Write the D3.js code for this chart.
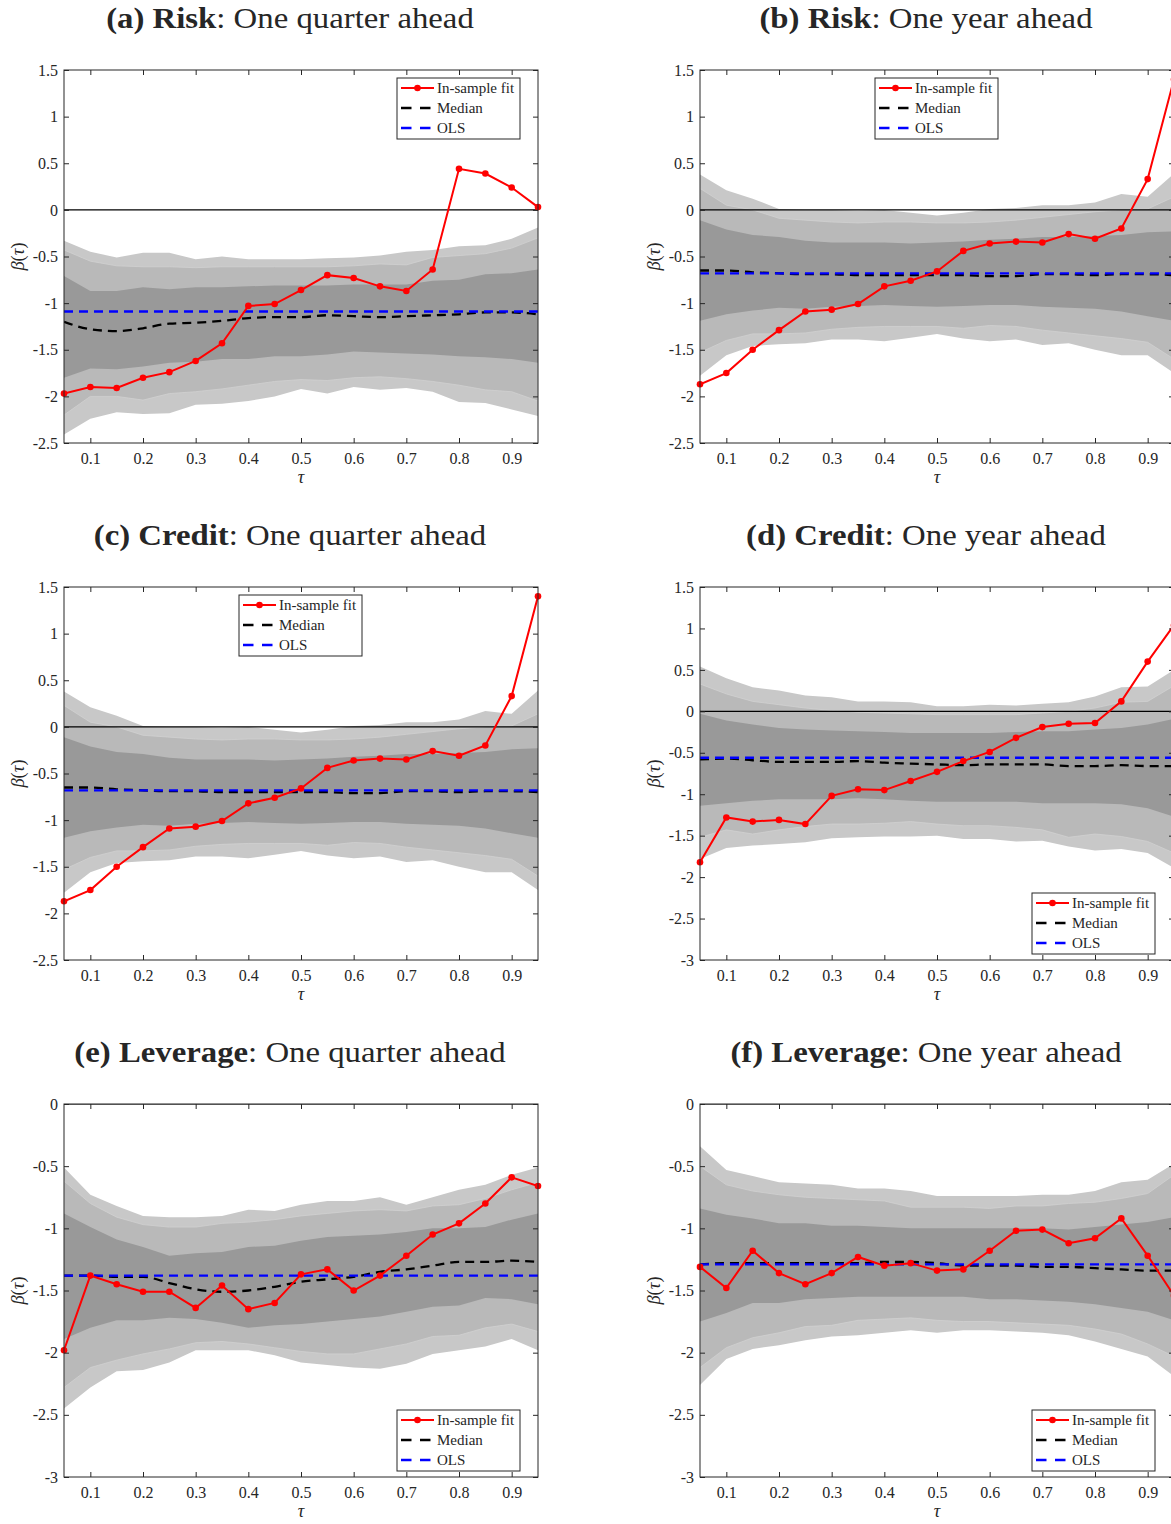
<!DOCTYPE html>
<html>
<head>
<meta charset="utf-8">
<script src="https://cdn.jsdelivr.net/npm/d3@7"></script>
<style>
  body { margin: 0; background: #fff; }
  svg text { font-family: "Liberation Serif", "Times New Roman", serif; fill: #262626; }
</style>
</head>
<body>
<svg id="fig" width="1171" height="1524"></svg>
<script>
// quantile grid shared by every panel
var tau = [0.05, 0.10, 0.15, 0.20, 0.25, 0.30, 0.35, 0.40, 0.45, 0.50,
           0.55, 0.60, 0.65, 0.70, 0.75, 0.80, 0.85, 0.90, 0.95]
var xTicks = [0.1, 0.2, 0.3, 0.4, 0.5, 0.6, 0.7, 0.8, 0.9]

// (a) Risk, one quarter ahead
var fitA = [-1.97,-1.90,-1.91,-1.80,-1.74,-1.62,-1.43,-1.03,-1.01,-0.86,-0.70,-0.73,-0.82,-0.87,-0.64,0.44,0.39,0.24,0.03]
var medA = [-1.20,-1.28,-1.30,-1.27,-1.22,-1.21,-1.19,-1.16,-1.15,-1.15,-1.13,-1.14,-1.15,-1.14,-1.13,-1.12,-1.10,-1.10,-1.12]
var olsA = -1.09
var outerHiA = [-0.33,-0.45,-0.51,-0.46,-0.46,-0.53,-0.50,-0.53,-0.53,-0.53,-0.52,-0.51,-0.49,-0.45,-0.43,-0.39,-0.38,-0.31,-0.19]
var midHiA   = [-0.43,-0.55,-0.60,-0.61,-0.61,-0.62,-0.61,-0.61,-0.61,-0.61,-0.61,-0.60,-0.58,-0.59,-0.51,-0.49,-0.47,-0.41,-0.30]
var innerHiA = [-0.71,-0.87,-0.87,-0.83,-0.85,-0.83,-0.83,-0.82,-0.81,-0.81,-0.81,-0.80,-0.80,-0.80,-0.76,-0.75,-0.69,-0.68,-0.64]
var innerLoA = [-1.80,-1.70,-1.71,-1.68,-1.64,-1.63,-1.60,-1.60,-1.57,-1.57,-1.55,-1.52,-1.53,-1.54,-1.55,-1.57,-1.58,-1.60,-1.64]
var midLoA   = [-2.20,-2.00,-2.00,-2.04,-1.97,-1.95,-1.92,-1.88,-1.84,-1.82,-1.83,-1.80,-1.79,-1.81,-1.84,-1.88,-1.93,-1.95,-2.05]
var outerLoA = [-2.41,-2.24,-2.17,-2.19,-2.18,-2.09,-2.08,-2.05,-2.00,-1.92,-1.97,-1.90,-1.93,-1.91,-1.95,-2.06,-2.07,-2.14,-2.21]

// (b) Risk one year ahead and (c) Credit one quarter ahead show the same estimates
var fitC = [-1.87,-1.75,-1.50,-1.29,-1.09,-1.07,-1.01,-0.82,-0.76,-0.66,-0.44,-0.36,-0.34,-0.35,-0.26,-0.31,-0.20,0.33,1.40]
var medC = [-0.65,-0.65,-0.67,-0.68,-0.69,-0.69,-0.70,-0.70,-0.70,-0.70,-0.70,-0.71,-0.71,-0.69,-0.69,-0.70,-0.69,-0.69,-0.70]
var olsC = -0.68
var outerHiC = [0.38,0.21,0.12,0.01,0.00,0.00,-0.01,0.00,-0.03,-0.06,-0.03,0.01,0.02,0.05,0.05,0.08,0.17,0.14,0.39]
var midHiC   = [0.23,0.05,0.00,-0.09,-0.11,-0.13,-0.14,-0.13,-0.13,-0.14,-0.14,-0.13,-0.11,-0.08,-0.05,-0.02,0.00,0.01,0.14]
var innerHiC = [-0.11,-0.21,-0.27,-0.29,-0.33,-0.35,-0.35,-0.35,-0.36,-0.35,-0.34,-0.32,-0.31,-0.29,-0.29,-0.28,-0.27,-0.24,-0.23]
var innerLoC = [-1.19,-1.12,-1.08,-1.05,-1.06,-1.04,-1.03,-1.02,-1.03,-1.04,-1.03,-1.02,-1.02,-1.04,-1.05,-1.06,-1.09,-1.14,-1.19]
var midLoC   = [-1.53,-1.40,-1.33,-1.33,-1.32,-1.28,-1.26,-1.25,-1.25,-1.25,-1.27,-1.24,-1.25,-1.29,-1.32,-1.35,-1.38,-1.42,-1.60]
var outerLoC = [-1.78,-1.56,-1.46,-1.44,-1.43,-1.39,-1.39,-1.41,-1.37,-1.33,-1.38,-1.41,-1.39,-1.45,-1.43,-1.50,-1.56,-1.56,-1.75]

// (d) Credit, one year ahead
var fitD = [-1.82,-1.28,-1.33,-1.31,-1.36,-1.02,-0.94,-0.95,-0.84,-0.73,-0.60,-0.49,-0.32,-0.19,-0.15,-0.14,0.12,0.60,1.04]
var medD = [-0.58,-0.57,-0.59,-0.61,-0.61,-0.61,-0.60,-0.62,-0.63,-0.64,-0.65,-0.64,-0.64,-0.64,-0.66,-0.66,-0.65,-0.66,-0.66]
var olsD = -0.56
var outerHiD = [0.54,0.40,0.29,0.25,0.19,0.17,0.12,0.12,0.11,0.06,0.06,0.08,0.07,0.09,0.11,0.18,0.29,0.30,0.50]
var midHiD   = [0.33,0.21,0.12,0.08,0.04,0.01,-0.01,-0.02,-0.03,-0.04,-0.04,-0.04,-0.04,-0.02,0.00,0.04,0.11,0.12,0.31]
var innerHiD = [-0.03,-0.11,-0.16,-0.20,-0.22,-0.23,-0.24,-0.25,-0.26,-0.26,-0.26,-0.26,-0.25,-0.24,-0.24,-0.22,-0.20,-0.16,-0.09]
var innerLoD = [-1.14,-1.11,-1.08,-1.06,-1.06,-1.06,-1.05,-1.06,-1.08,-1.09,-1.09,-1.09,-1.09,-1.11,-1.11,-1.11,-1.12,-1.17,-1.27]
var midLoD   = [-1.52,-1.43,-1.48,-1.43,-1.39,-1.36,-1.36,-1.35,-1.33,-1.36,-1.38,-1.38,-1.40,-1.43,-1.52,-1.48,-1.51,-1.57,-1.71]
var outerLoD = [-1.78,-1.65,-1.62,-1.60,-1.58,-1.53,-1.52,-1.51,-1.51,-1.50,-1.54,-1.54,-1.57,-1.56,-1.63,-1.68,-1.66,-1.71,-1.89]

// (e) Leverage, one quarter ahead
var fitE = [-1.98,-1.38,-1.45,-1.51,-1.51,-1.64,-1.46,-1.65,-1.60,-1.37,-1.33,-1.50,-1.38,-1.22,-1.05,-0.96,-0.80,-0.59,-0.66]
var medE = [-1.38,-1.38,-1.39,-1.39,-1.44,-1.49,-1.51,-1.50,-1.47,-1.43,-1.41,-1.39,-1.35,-1.33,-1.30,-1.27,-1.27,-1.26,-1.27]
var olsE = -1.38
var outerHiE = [-0.51,-0.73,-0.82,-0.90,-0.91,-0.91,-0.90,-0.85,-0.86,-0.81,-0.78,-0.78,-0.75,-0.81,-0.75,-0.69,-0.65,-0.57,-0.51]
var midHiE   = [-0.62,-0.80,-0.91,-0.97,-0.99,-0.99,-0.96,-0.95,-0.93,-0.90,-0.88,-0.86,-0.85,-0.86,-0.82,-0.81,-0.76,-0.69,-0.63]
var innerHiE = [-0.88,-0.99,-1.09,-1.15,-1.22,-1.20,-1.19,-1.15,-1.14,-1.10,-1.07,-1.06,-1.05,-1.03,-1.00,-1.00,-0.99,-0.93,-0.88]
var innerLoE = [-1.89,-1.80,-1.74,-1.74,-1.72,-1.73,-1.76,-1.80,-1.78,-1.77,-1.75,-1.73,-1.71,-1.67,-1.63,-1.62,-1.56,-1.57,-1.61]
var midLoE   = [-2.28,-2.12,-2.06,-2.01,-1.97,-1.92,-1.91,-1.93,-1.96,-1.99,-2.01,-2.01,-1.97,-1.93,-1.87,-1.86,-1.80,-1.77,-1.83]
var outerLoE = [-2.45,-2.28,-2.15,-2.14,-2.08,-1.98,-1.98,-1.98,-2.02,-2.08,-2.10,-2.12,-2.13,-2.09,-2.01,-1.98,-1.95,-1.89,-1.98]

// (f) Leverage, one year ahead
var fitF = [-1.31,-1.48,-1.18,-1.36,-1.45,-1.36,-1.23,-1.30,-1.28,-1.34,-1.33,-1.18,-1.02,-1.01,-1.12,-1.08,-0.92,-1.22,-1.54]
var medF = [-1.29,-1.28,-1.28,-1.28,-1.28,-1.28,-1.28,-1.27,-1.27,-1.28,-1.30,-1.30,-1.30,-1.31,-1.31,-1.32,-1.33,-1.34,-1.34]
var olsF = -1.29
var outerHiF = [-0.34,-0.53,-0.58,-0.63,-0.64,-0.65,-0.68,-0.68,-0.70,-0.74,-0.74,-0.74,-0.74,-0.73,-0.73,-0.70,-0.63,-0.61,-0.48]
var midHiF   = [-0.50,-0.65,-0.70,-0.73,-0.75,-0.76,-0.77,-0.78,-0.83,-0.83,-0.83,-0.84,-0.82,-0.82,-0.80,-0.79,-0.76,-0.72,-0.57]
var innerHiF = [-0.84,-0.89,-0.92,-0.96,-0.96,-0.98,-0.98,-0.99,-1.00,-1.00,-1.00,-1.00,-1.00,-1.00,-1.01,-0.99,-0.97,-0.95,-0.91]
var innerLoF = [-1.75,-1.68,-1.60,-1.60,-1.57,-1.56,-1.55,-1.55,-1.55,-1.55,-1.55,-1.57,-1.57,-1.58,-1.59,-1.61,-1.64,-1.67,-1.74]
var midLoF   = [-2.12,-1.96,-1.88,-1.84,-1.79,-1.78,-1.74,-1.73,-1.72,-1.74,-1.75,-1.75,-1.76,-1.77,-1.78,-1.81,-1.85,-1.93,-2.03]
var outerLoF = [-2.26,-2.05,-1.97,-1.94,-1.90,-1.87,-1.86,-1.84,-1.82,-1.84,-1.82,-1.82,-1.83,-1.84,-1.86,-1.91,-1.97,-2.03,-2.19]

var tags = ["(a)", "(b)", "(c)", "(d)", "(e)", "(f)"]
var topics = ["Risk", "Risk", "Credit", "Credit", "Leverage", "Leverage"]
var horizons = [": One quarter ahead", ": One year ahead", ": One quarter ahead",
                ": One year ahead", ": One quarter ahead", ": One year ahead"]
var legendLabels = ["In-sample fit", "Median", "OLS"]


// Layout numbers (pixels)
var Layout = {
  colX: [64, 700],
  rowY: [70, 587, 1104],
  w: 474,
  h: 373,
  tick: 5,
  titleStretch: 1.13
}

var Colors = {
  outer: "#c8c8c8",
  mid: "#b9b9b9",
  inner: "#999999",
  fit: "#ff0000",
  median: "#000000",
  ols: "#0000ff",
  axis: "#262626"
}

var panels = [
  { col: 0, row: 0, domain: [-2.5, 1.5], fit: fitA, med: medA, ols: olsA,
    bands: [[outerHiA, outerLoA], [midHiA, midLoA], [innerHiA, innerLoA]], legend: [333, 8] },
  { col: 1, row: 0, domain: [-2.5, 1.5], fit: fitC, med: medC, ols: olsC,
    bands: [[outerHiC, outerLoC], [midHiC, midLoC], [innerHiC, innerLoC]], legend: [175, 8] },
  { col: 0, row: 1, domain: [-2.5, 1.5], fit: fitC, med: medC, ols: olsC,
    bands: [[outerHiC, outerLoC], [midHiC, midLoC], [innerHiC, innerLoC]], legend: [175, 8] },
  { col: 1, row: 1, domain: [-3, 1.5], fit: fitD, med: medD, ols: olsD,
    bands: [[outerHiD, outerLoD], [midHiD, midLoD], [innerHiD, innerLoD]], legend: [332, 306] },
  { col: 0, row: 2, domain: [-3, 0], fit: fitE, med: medE, ols: olsE,
    bands: [[outerHiE, outerLoE], [midHiE, midLoE], [innerHiE, innerLoE]], legend: [333, 306] },
  { col: 1, row: 2, domain: [-3, 0], fit: fitF, med: medF, ols: olsF,
    bands: [[outerHiF, outerLoF], [midHiF, midLoF], [innerHiF, innerLoF]], legend: [332, 306] }
]

var svg = d3.select("#fig")

panels.forEach(function(p, i) { drawPanel(p, i) })


function fmt(v) {
  var s = String(+v.toFixed(1))
  return s === "-0" ? "0" : s
}

function drawPanel(p, i) {
  let left = Layout.colX[p.col]
  let top = Layout.rowY[p.row]
  let w = Layout.w
  let h = Layout.h

  let x = d3.scaleLinear().domain([0.05, 0.95]).range([0, w])
  let y = d3.scaleLinear().domain(p.domain).range([h, 0])

  let g = svg.append("g").attr("transform", "translate(" + left + "," + top + ")")

  svg.append("clipPath").attr("id", "clip" + i)
    .append("rect").attr("width", w).attr("height", h)

  let plot = g.append("g").attr("clip-path", "url(#clip" + i + ")")

  // confidence bands, widest first
  let bandFill = [Colors.outer, Colors.mid, Colors.inner]
  p.bands.forEach(function(b, k) {
    let area = d3.area()
      .x(function(d, j) { return x(tau[j]) })
      .y0(function(d, j) { return y(b[1][j]) })
      .y1(function(d, j) { return y(b[0][j]) })
    plot.append("path")
      .datum(tau)
      .attr("d", area)
      .attr("fill", bandFill[k])
      .attr("stroke", k === 1 ? "#d0d0d0" : "none")
      .attr("stroke-width", 0.8)
  })

  // zero line
  plot.append("line")
    .attr("x1", 0).attr("x2", w)
    .attr("y1", y(0)).attr("y2", y(0))
    .attr("stroke", "#000").attr("stroke-width", 1.2)

  // median and OLS
  let medLine = d3.line()
    .x(function(d, j) { return x(tau[j]) })
    .y(function(d) { return y(d) })
    .curve(d3.curveMonotoneX)
  plot.append("path")
    .datum(p.med)
    .attr("d", medLine)
    .attr("fill", "none")
    .attr("stroke", Colors.median)
    .attr("stroke-width", 2.3)
    .attr("stroke-dasharray", "9,6")

  plot.append("line")
    .attr("x1", 0).attr("x2", w)
    .attr("y1", y(p.ols)).attr("y2", y(p.ols))
    .attr("stroke", Colors.ols)
    .attr("stroke-width", 2.3)
    .attr("stroke-dasharray", "9,6")

  // in-sample fit
  let fitLine = d3.line()
    .x(function(d, j) { return x(tau[j]) })
    .y(function(d) { return y(d) })
  plot.append("path")
    .datum(p.fit)
    .attr("d", fitLine)
    .attr("fill", "none")
    .attr("stroke", Colors.fit)
    .attr("stroke-width", 2)

  g.append("g")
    .selectAll("circle")
    .data(p.fit)
    .enter()
    .append("circle")
    .attr("cx", function(d, j) { return x(tau[j]) })
    .attr("cy", function(d) { return y(d) })
    .attr("r", 3.3)
    .attr("fill", Colors.fit)

  // axes, MATLAB style: inward ticks on all four sides
  let yVals = d3.range(p.domain[0], p.domain[1] + 0.001, 0.5)

  let yAxis = g.append("g")
    .call(d3.axisLeft(y).tickValues(yVals).tickSize(-Layout.tick).tickPadding(6).tickFormat(fmt))
  let yAxisR = g.append("g")
    .attr("transform", "translate(" + w + ",0)")
    .call(d3.axisRight(y).tickValues(yVals).tickSize(-Layout.tick).tickFormat(""))
  let xAxis = g.append("g")
    .attr("transform", "translate(0," + h + ")")
    .call(d3.axisBottom(x).tickValues(xTicks).tickSize(-Layout.tick).tickPadding(10).tickFormat(fmt))
  let xAxisT = g.append("g")
    .call(d3.axisTop(x).tickValues(xTicks).tickSize(-Layout.tick).tickFormat(""))

  ;[yAxis, yAxisR, xAxis, xAxisT].forEach(function(a) {
    a.select(".domain").remove()
    a.selectAll("line").attr("stroke", Colors.axis)
    a.selectAll("text")
      .attr("fill", Colors.axis)
      .style("font-family", '"Liberation Serif", "Times New Roman", serif')
      .style("font-size", "16px")
  })

  g.append("rect")
    .attr("width", w).attr("height", h)
    .attr("fill", "none")
    .attr("stroke", Colors.axis)
    .attr("stroke-width", 1)

  // axis labels
  g.append("text")
    .attr("x", w / 2).attr("y", h + 40)
    .attr("text-anchor", "middle")
    .style("font-size", "18px")
    .style("font-style", "italic")
    .text("τ")

  let yl = g.append("text")
    .attr("transform", "translate(-46," + (h / 2) + ") rotate(-90)")
    .attr("text-anchor", "middle")
    .attr("dy", "0.35em")
    .style("font-size", "18.5px")
  yl.append("tspan").style("font-style", "italic").text("β")
  yl.append("tspan").text("(")
  yl.append("tspan").style("font-style", "italic").text("τ")
  yl.append("tspan").text(")")

  // title
  let title = g.append("text")
    .attr("x", 226).attr("y", -42)
    .attr("text-anchor", "middle")
    .style("font-size", "29px")
  title.append("tspan").style("font-weight", "bold").text(tags[i] + " " + topics[i])
  title.append("tspan").text(horizons[i])
  let natural = title.node().getComputedTextLength()
  title.attr("textLength", natural * Layout.titleStretch)
    .attr("lengthAdjust", "spacingAndGlyphs")

  drawLegend(g, p.legend[0], p.legend[1])
}

function drawLegend(g, lx, ly) {
  let lg = g.append("g").attr("transform", "translate(" + lx + "," + ly + ")")
  lg.append("rect")
    .attr("width", 123).attr("height", 61)
    .attr("fill", "#fff")
    .attr("stroke", Colors.axis)
    .attr("stroke-width", 1)

  let rows = [10, 30, 50]

  lg.append("line")
    .attr("x1", 4).attr("x2", 37).attr("y1", rows[0]).attr("y2", rows[0])
    .attr("stroke", Colors.fit).attr("stroke-width", 2)
  lg.append("circle")
    .attr("cx", 20.5).attr("cy", rows[0]).attr("r", 3.3)
    .attr("fill", Colors.fit)

  lg.append("line")
    .attr("x1", 4).attr("x2", 37).attr("y1", rows[1]).attr("y2", rows[1])
    .attr("stroke", Colors.median).attr("stroke-width", 2.3)
    .attr("stroke-dasharray", "10.5,8.5")
  lg.append("line")
    .attr("x1", 4).attr("x2", 37).attr("y1", rows[2]).attr("y2", rows[2])
    .attr("stroke", Colors.ols).attr("stroke-width", 2.3)
    .attr("stroke-dasharray", "10.5,8.5")

  lg.selectAll("text.lab")
    .data(legendLabels)
    .enter()
    .append("text")
    .attr("class", "lab")
    .attr("x", 40)
    .attr("y", function(d, k) { return rows[k] })
    .attr("dy", "0.35em")
    .style("font-size", "15px")
    .text(function(d) { return d })
}
</script>
</body>
</html>
